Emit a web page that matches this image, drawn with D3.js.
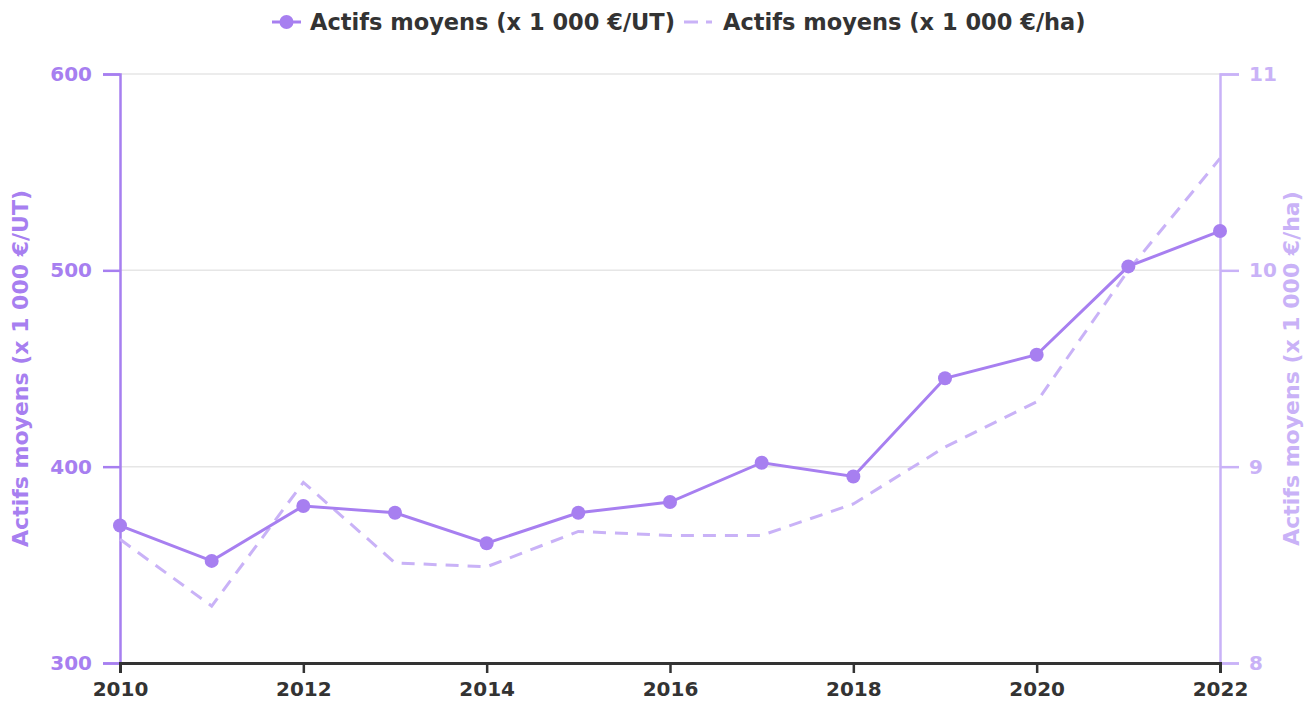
<!DOCTYPE html>
<html>
<head>
<meta charset="utf-8">
<script src="https://cdn.jsdelivr.net/npm/d3@7"></script>
<style>
  body { margin: 0; background: #fff; }
  text { font-family: "DejaVu Sans", sans-serif; font-weight: bold; }
</style>
</head>
<body>
<div id="chart"></div>
<script>
'use strict';

// data
var years = [2010, 2011, 2012, 2013, 2014, 2015, 2016, 2017, 2018, 2019, 2020, 2021, 2022];
var actifsUT = [370, 352, 380, 376.5, 361, 376.5, 382, 402, 395, 445, 457, 502, 520];
var actifsHa = [8.63, 8.29, 8.92, 8.51, 8.49, 8.67, 8.65, 8.65, 8.81, 9.1, 9.33, 10.0, 10.57];
var leftTicks = [300, 400, 500, 600];
var rightTicks = [8, 9, 10, 11];
var xTicks = [2010, 2012, 2014, 2016, 2018, 2020, 2022];
var labelUT = 'Actifs moyens (x 1 000 €/UT)';
var labelHa = 'Actifs moyens (x 1 000 €/ha)';

var App = (function() {
function run() {
  var owidth = 1306, oheight = 705;
  var margin = {top: 74, right: 86, bottom: 42, left: 120};
  var cwidth = owidth - margin.left - margin.right;
  var cheight = oheight - margin.top - margin.bottom;

  var colSolid = '#a77ff0';
  var colDash = '#c9b2f7';

  var x = d3.scaleLinear().domain([2010, 2022]).range([0, cwidth]);
  var yL = d3.scaleLinear().domain([300, 600]).range([cheight, 0]);
  var yR = d3.scaleLinear().domain([8, 11]).range([cheight, 0]);

  var svg = d3.select('#chart').append('svg')
    .attr('width', owidth)
    .attr('height', oheight);
  var chart = svg.append('g')
    .attr('transform', 'translate(' + margin.left + ',' + margin.top + ')');

  // grid
  chart.append('g').selectAll('line')
    .data(leftTicks)
    .enter().append('line')
    .attr('x1', 0).attr('x2', cwidth)
    .attr('y1', function(d) { return yL(d); })
    .attr('y2', function(d) { return yL(d); })
    .attr('stroke', '#e6e6e6')
    .attr('stroke-width', 1.5);

  // left axis
  var gl = chart.append('g')
    .call(d3.axisLeft(yL).tickValues(leftTicks).tickSize(17).tickPadding(11));
  gl.select('.domain').attr('stroke', colSolid).attr('stroke-width', 2.5);
  gl.selectAll('.tick line').attr('stroke', colSolid).attr('stroke-width', 2.5);
  gl.selectAll('.tick text').attr('fill', colSolid).style('font-size', '20px');

  // right axis
  var gr = chart.append('g')
    .attr('transform', 'translate(' + cwidth + ',0)')
    .call(d3.axisRight(yR).tickValues(rightTicks).tickFormat(d3.format('d')).tickSize(19).tickPadding(10));
  gr.select('.domain').attr('stroke', colDash).attr('stroke-width', 2.5);
  gr.selectAll('.tick line').attr('stroke', colDash).attr('stroke-width', 2.5);
  gr.selectAll('.tick text').attr('fill', colDash).style('font-size', '20px');

  // bottom axis
  var gx = chart.append('g')
    .attr('transform', 'translate(0,' + cheight + ')')
    .call(d3.axisBottom(x).tickValues(xTicks).tickFormat(d3.format('d')).tickSizeOuter(0).tickSize(10).tickPadding(9));
  gx.select('.domain').attr('stroke', '#333').attr('stroke-width', 3);
  gx.selectAll('.tick line').attr('stroke', '#333').attr('stroke-width', 2.5);
  gx.selectAll('.tick text').attr('fill', '#333').style('font-size', '20px');

  // axis titles
  svg.append('text')
    .attr('transform', 'translate(28,' + (margin.top + cheight / 2) + ') rotate(-90)')
    .attr('text-anchor', 'middle')
    .attr('fill', colSolid)
    .style('font-size', '22px')
    .text(labelUT);
  svg.append('text')
    .attr('transform', 'translate(1299,' + (margin.top + cheight / 2) + ') rotate(-90)')
    .attr('text-anchor', 'middle')
    .attr('fill', colDash)
    .style('font-size', '22px')
    .text(labelHa);

  // lines
  var lineHa = d3.line()
    .x(function(d, i) { return x(years[i]); })
    .y(function(d) { return yR(d); });
  chart.append('path')
    .datum(actifsHa)
    .attr('fill', 'none')
    .attr('stroke', colDash)
    .attr('stroke-width', 3)
    .attr('stroke-dasharray', '13,9')
    .attr('d', lineHa);

  var lineUT = d3.line()
    .x(function(d, i) { return x(years[i]); })
    .y(function(d) { return yL(d); });
  chart.append('path')
    .datum(actifsUT)
    .attr('fill', 'none')
    .attr('stroke', colSolid)
    .attr('stroke-width', 3)
    .attr('d', lineUT);
  chart.append('g').selectAll('circle')
    .data(actifsUT)
    .enter().append('circle')
    .attr('cx', function(d, i) { return x(years[i]); })
    .attr('cy', function(d) { return yL(d); })
    .attr('r', 7)
    .attr('fill', colSolid);

  // legend
  var lg = svg.append('g').attr('transform', 'translate(0,22)');
  lg.append('line').attr('x1', 272).attr('x2', 301).attr('y1', 0).attr('y2', 0)
    .attr('stroke', colSolid).attr('stroke-width', 3);
  lg.append('circle').attr('cx', 286.5).attr('cy', 0).attr('r', 7).attr('fill', colSolid);
  lg.append('text').attr('x', 310).attr('y', 8).attr('fill', '#333')
    .style('font-size', '22.5px').text(labelUT);
  lg.append('line').attr('x1', 684).attr('x2', 712).attr('y1', 0).attr('y2', 0)
    .attr('stroke', colDash).attr('stroke-width', 3).attr('stroke-dasharray', '14,8');
  lg.append('text').attr('x', 723).attr('y', 8).attr('fill', '#333')
    .style('font-size', '22.5px').text(labelHa);
}

return { run: run };
}());
document.addEventListener('DOMContentLoaded', App.run);
</script>
</body>
</html>
